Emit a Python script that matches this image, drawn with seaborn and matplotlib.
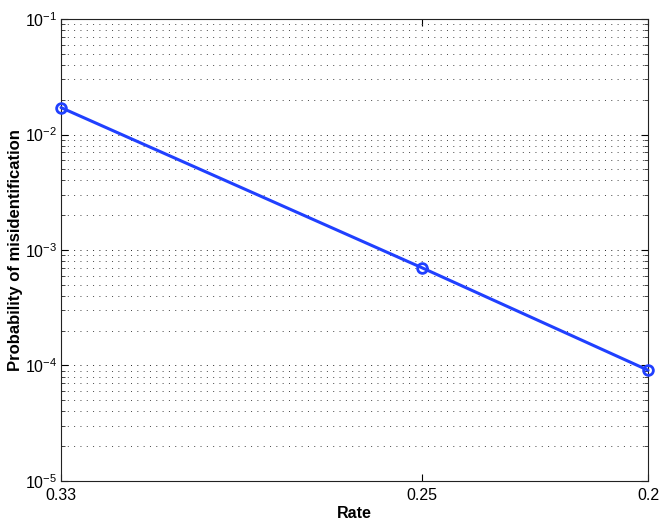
import matplotlib
matplotlib.use("Agg")
import matplotlib.pyplot as plt
import seaborn as sns
import pandas as pd
import numpy as np
from matplotlib.ticker import LogLocator, FixedLocator, NullLocator

rate = [0.33, 0.25, 0.2]
prob = [1.71e-2, 7.0e-4, 9.1e-5]
xtick_labels = ["0.33", "0.25", "0.2"]

sns.set_theme(style="white")
plt.rcParams['font.family'] = ['Liberation Sans', 'DejaVu Sans']
plt.rcParams['mathtext.fontset'] = 'custom'
plt.rcParams['mathtext.rm'] = 'Liberation Sans'
plt.rcParams['mathtext.it'] = 'Liberation Sans'

fig = plt.figure(figsize=(6.64, 5.21), dpi=100)
ax = fig.add_axes([0.0919, 0.0768, 0.976 - 0.0919, 0.9635 - 0.0768])

df = pd.DataFrame({"Rate": rate, "Prob": prob})
sns.lineplot(data=df, x="Rate", y="Prob", ax=ax, color="#2040ff", linewidth=2.2,
             marker="o", markersize=7, markerfacecolor="none", markeredgecolor="#2040ff",
             markeredgewidth=2, clip_on=False, zorder=5)

ax.set_yscale("log")
ax.set_ylim(1e-5, 1e-1)
ax.set_xlim(0.33, 0.2)
ax.xaxis.set_major_locator(FixedLocator(rate))
ax.set_xticklabels(xtick_labels)
ax.xaxis.set_minor_locator(NullLocator())
ax.yaxis.set_major_locator(LogLocator(base=10, numticks=10))
ax.yaxis.set_minor_locator(LogLocator(base=10, subs=np.arange(2, 10), numticks=10))

ax.grid(True, which="major", axis="y", linestyle=(0, (1, 5.5)), color="#222222", linewidth=0.7)
ax.grid(True, which="minor", axis="y", linestyle=(0, (1, 5.5)), color="#444444", linewidth=0.7)
ax.grid(False, axis="x")

ax.tick_params(axis="both", which="major", direction="in", length=5, width=0.8,
               labelsize=11.5, colors="black", top=True, right=True, bottom=True, left=True)
ax.tick_params(axis="x", which="major", pad=5)
ax.tick_params(axis="y", which="major", pad=3)
ax.tick_params(axis="y", which="minor", direction="in", length=3, width=0.6,
               left=True, right=True)
for s in ax.spines.values():
    s.set_color("#222222")
    s.set_linewidth(0.8)

ax.set_xlabel("Rate", fontsize=11.5, fontweight="bold", labelpad=2, color="black")
ax.set_ylabel("Probability of misidentification", fontsize=12, fontweight="bold",
              labelpad=1, color="black")

fig.savefig("out.png", dpi=100, facecolor="white")
